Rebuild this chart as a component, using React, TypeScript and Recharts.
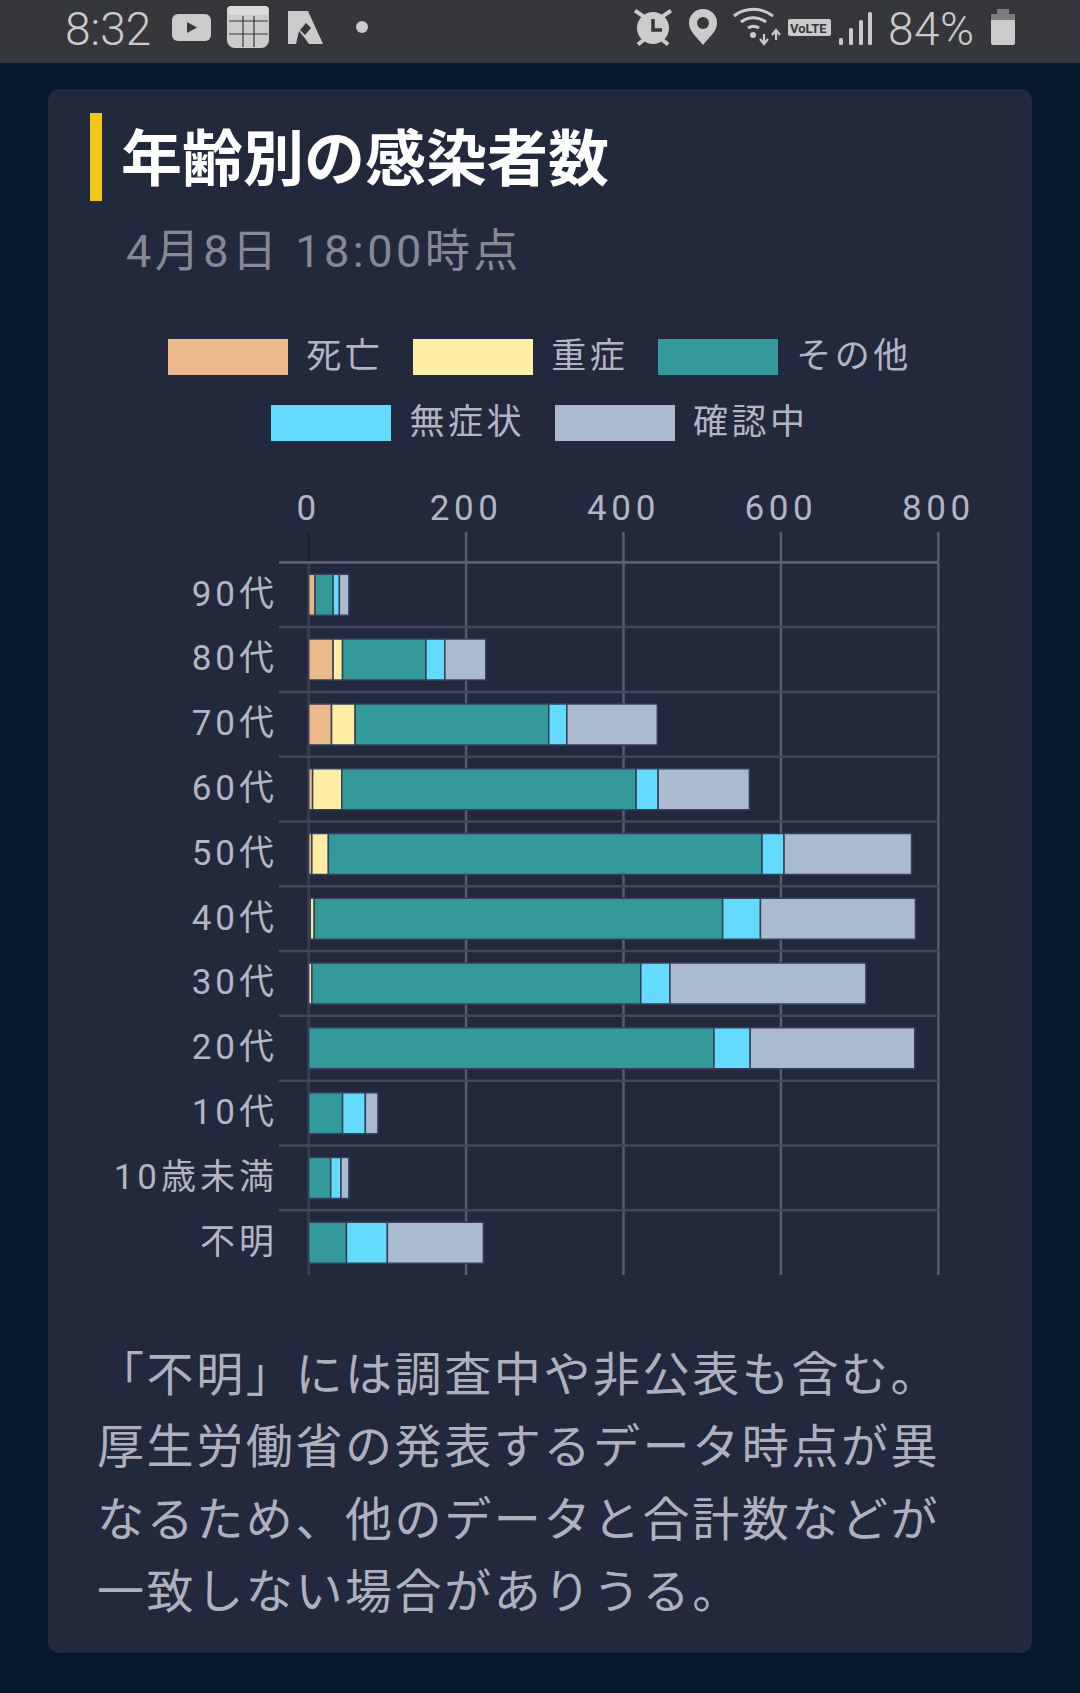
import React from 'react';
import { BarChart, Bar, XAxis, YAxis, CartesianGrid, Legend } from 'recharts';

const categories = ['90代', '80代', '70代', '60代', '50代', '40代', '30代', '20代', '10代', '10歳未満', '不明'];
const deaths = [8, 31, 29, 5, 4, 2, 0, 0, 0, 0, 0];
const severe = [0, 12, 30, 37, 21, 5, 4, 0, 0, 0, 0];
const others = [23, 106, 246, 374, 551, 519, 418, 515, 43, 28, 48];
const asymptomatic = [8, 24, 23, 28, 28, 48, 37, 46, 29, 13, 52];
const confirming = [12, 52, 115, 116, 162, 197, 249, 209, 16, 10, 122];
const xTicks = [0, 200, 400, 600, 800];
const noteLines = ['「不明」には調査中や非公表も含む。', '厚生労働省の発表するデータ時点が異', 'なるため、他のデータと合計数などが', '一致しない場合がありうる。'];

const seriesList = [
  { key: 'deaths', name: '死亡', color: '#ebb98a' },
  { key: 'severe', name: '重症', color: '#ffeda6' },
  { key: 'others', name: 'その他', color: '#339a99' },
  { key: 'asymptomatic', name: '無症状', color: '#65daff' },
  { key: 'confirming', name: '確認中', color: '#a9bbcc' },
];

const rows = categories.map((c, i) => ({
  category: c,
  deaths: deaths[i],
  severe: severe[i],
  others: others[i],
  asymptomatic: asymptomatic[i],
  confirming: confirming[i],
}));

const FONT = 'Roboto, "Noto Sans CJK JP", sans-serif';
const PLOT_TOP = 562.3;
const PLOT_LEFT = 308.7;
const PLOT_RIGHT = 938.3;
const PLOT_BOTTOM = 1275;
const BAND = (PLOT_BOTTOM - PLOT_TOP) / categories.length;

const XTick = (p: any) => (
  <g>
    <line x1={p.x} x2={p.x} y1={532} y2={PLOT_TOP} stroke={p.payload.value === 0 ? '#1b1e2e' : '#585c6d'} strokeWidth={2.5} />
    <text x={p.x} y={520} textAnchor="middle" fontFamily={FONT} fontSize={35} letterSpacing={4.6} fill="#b3b6c2">{p.payload.value}</text>
  </g>
);

const YTick = (p: any) => {
  const lineY = p.y - BAND / 2;
  return (
    <g>
      <line x1={279} x2={PLOT_RIGHT} y1={lineY} y2={lineY} stroke={p.index === 0 ? '#5d6071' : '#444759'} strokeWidth={p.index === 0 ? 2.8 : 2.5} />
      <text x={278} y={p.y + 11} textAnchor="end" fontFamily={FONT} fontSize={35} letterSpacing={4} fill="#b3b6c2">{p.payload.value}</text>
    </g>
  );
};

const GridLine = (p: any) => (
  <line
    key={p.key}
    x1={p.x1}
    x2={p.x2}
    y1={p.y1}
    y2={p.y2}
    stroke={p.index === 0 ? '#3a3d50' : '#585c6d'}
    strokeWidth={p.index === 0 ? 3 : 2.5}
  />
);

const LegendRow = ({ items, top }: any) => (
  <div style={{ position: 'absolute', left: 0, top, width: 1080, height: 36, display: 'flex', justifyContent: 'center' }}>
    {items.map((it: any, i: number) => (
      <div key={it.value} style={{ display: 'flex', alignItems: 'center', marginRight: i === items.length - 1 ? 0 : 30 }}>
        <span style={{ display: 'block', width: 120, height: 36, background: it.color }} />
        <span style={{ marginLeft: 18, fontFamily: FONT, fontSize: 35, letterSpacing: 3.5, color: '#b3b6c2', lineHeight: '36px', whiteSpace: 'nowrap' }}>{it.value}</span>
      </div>
    ))}
  </div>
);

const LegendContent = (p: any) => {
  const items = p.payload || [];
  return (
    <div style={{ position: 'relative', height: 0 }}>
      <LegendRow items={items.slice(0, 3)} top={339} />
      <LegendRow items={items.slice(3)} top={405} />
    </div>
  );
};

const StatusIcons = () => (
  <svg width={1080} height={63} style={{ position: 'absolute', left: 0, top: 0 }}>
    <g fill="#cbcbcb">
      <rect x={172} y={14} width={39} height={27} rx={6} />
      <polygon points="187,22 187,33 197,27.5" fill="#36373b" />
      <rect x={227} y={6} width={42} height={42} rx={8} />
      <g stroke="#36373b" strokeWidth={1.2}>
        <line x1={229} x2={268} y1={21} y2={21} />
        <line x1={229} x2={268} y1={34} y2={34} />
        <line x1={243} x2={243} y1={16} y2={47} />
        <line x1={254} x2={254} y1={16} y2={47} />
      </g>
      <rect x={227} y={6} width={42} height={9} rx={4} fill="#dcdcdc" />
      <path d="M288 11 h20 l15 33 h-14 l-5 -7 l-5 -6 l-3 13 h-8 z" />
      <path d="M300 30 l6 -7 l5 5 l-6 7 z" fill="#36373b" />
      <circle cx={362} cy={27} r={6} />
      <circle cx={653} cy={28} r={16} />
      <rect x={634} y={12} width={12} height={4} transform="rotate(35 640 14)" />
      <rect x={660} y={12} width={12} height={4} transform="rotate(-35 666 14)" />
      <rect x={637} y={40} width={8} height={4} transform="rotate(-40 641 42)" />
      <rect x={661} y={40} width={8} height={4} transform="rotate(40 665 42)" />
      <path d="M653 19 v11 h9" fill="none" stroke="#36373b" strokeWidth={3.5} />
      <path d="M703 9 a14 14 0 0 1 14 14 c0 9 -9 15 -14 22 c-5 -7 -14 -13 -14 -22 a14 14 0 0 1 14 -14 z" />
      <circle cx={703} cy={23} r={6} fill="#36373b" />
      <path d="M734 19 a32 32 0 0 1 39 0 M741 25 a21 21 0 0 1 25 0 M748 31 a10 10 0 0 1 11 0" fill="none" stroke="#cbcbcb" strokeWidth={3} transform="translate(0,-3)" />
      <circle cx={753} cy={35} r={3} />
      <path d="M764 44 v-10 M760 39 l4 5 l4 -5 M776 40 v-9 M772 35 l4 -5 l4 5" fill="none" stroke="#cbcbcb" strokeWidth={2.2} />
      <rect x={788} y={19} width={43} height={17} rx={2} />
      <text x={790} y={33} fontFamily="Roboto" fontSize={13} fontWeight={700} fill="#36373b">VoLTE</text>
      <rect x={839} y={38} width={4} height={7} rx={1.5} />
      <rect x={849} y={28} width={4} height={17} rx={1.5} />
      <rect x={859} y={20} width={4} height={25} rx={1.5} />
      <rect x={868} y={12} width={4} height={33} rx={1.5} />
      <rect x={991} y={19} width={24} height={26} rx={2} />
      <rect x={991} y={14} width={24} height={6} fill="#7d7d7d" />
      <rect x={997} y={9} width={12} height={6} fill="#7d7d7d" />
    </g>
  </svg>
);

export default function App() {
  return (
    <div style={{ position: 'absolute', left: 0, top: 0, width: 1080, height: 1693, background: '#051a2c', overflow: 'hidden' }}>
      <div style={{ position: 'absolute', left: 0, top: 0, width: 1080, height: 63, background: '#36373b' }} />
      <div style={{ position: 'absolute', left: 65, top: 3, fontFamily: 'Roboto', fontSize: 46, fontWeight: 300, color: '#cbcbcb', lineHeight: '52px' }}>8:32</div>
      <div style={{ position: 'absolute', left: 888, top: 3, fontFamily: 'Roboto', fontSize: 46, fontWeight: 300, letterSpacing: 0.5, color: '#cbcbcb', lineHeight: '52px' }}>84%</div>
      <StatusIcons />
      <div style={{ position: 'absolute', left: 48, top: 89, width: 984, height: 1564, background: '#23293d', borderRadius: 12 }} />
      <div style={{ position: 'absolute', left: 121, top: 124, fontFamily: FONT, fontSize: 61, fontWeight: 700, color: '#ffffff', lineHeight: '72px', whiteSpace: 'nowrap' }}>年齢別の感染者数</div>
      <div style={{ position: 'absolute', left: 90, top: 113, width: 12, height: 88, background: '#f1c816' }} />
      <div style={{ position: 'absolute', left: 126, top: 222, fontFamily: FONT, fontSize: 45, letterSpacing: 3.5, color: '#868994', lineHeight: '60px', whiteSpace: 'nowrap' }}>4月8日 18:00時点</div>

      <div style={{ position: 'absolute', left: 0, top: 0 }}>
        <BarChart
          width={1080}
          height={1693}
          data={rows}
          layout="vertical"
          barCategoryGap={0}
          margin={{ top: PLOT_TOP - 60, right: 1080 - PLOT_RIGHT, bottom: 1693 - PLOT_BOTTOM, left: 0 }}
        >
          <CartesianGrid horizontal={false} vertical={GridLine} stroke="#585c6d" strokeWidth={2.5} />
          <XAxis
            type="number"
            orientation="top"
            xAxisId={0}
            domain={[0, 800]}
            ticks={xTicks}
            height={60}
            axisLine={false}
            tickLine={false}
            interval={0}
            tick={XTick}
          />
          <YAxis
            type="category"
            dataKey="category"
            yAxisId={0}
            width={PLOT_LEFT}
            axisLine={false}
            tickLine={false}
            interval={0}
            tick={YTick}
          />
          <Legend
            verticalAlign="top"
            itemSorter={null}
            content={LegendContent}
            wrapperStyle={{ position: 'absolute', left: 0, top: 0, width: 1080, height: 0 }}
          />
          {seriesList.map((s) => (
            <Bar
              key={s.key}
              dataKey={s.key}
              name={s.name}
              stackId="a"
              fill={s.color}
              barSize={41}
              stroke="#34405a"
              strokeWidth={1.5}
              isAnimationActive={false}
            />
          ))}
        </BarChart>
      </div>

      {noteLines.map((line, i) => (
        <div key={line} style={{ position: 'absolute', left: 97, top: 1340 + i * 72.4, fontFamily: FONT, fontSize: 47, letterSpacing: 2.6, color: '#aeb1bd', lineHeight: '70px', whiteSpace: 'nowrap' }}>{line}</div>
      ))}
    </div>
  );
}
